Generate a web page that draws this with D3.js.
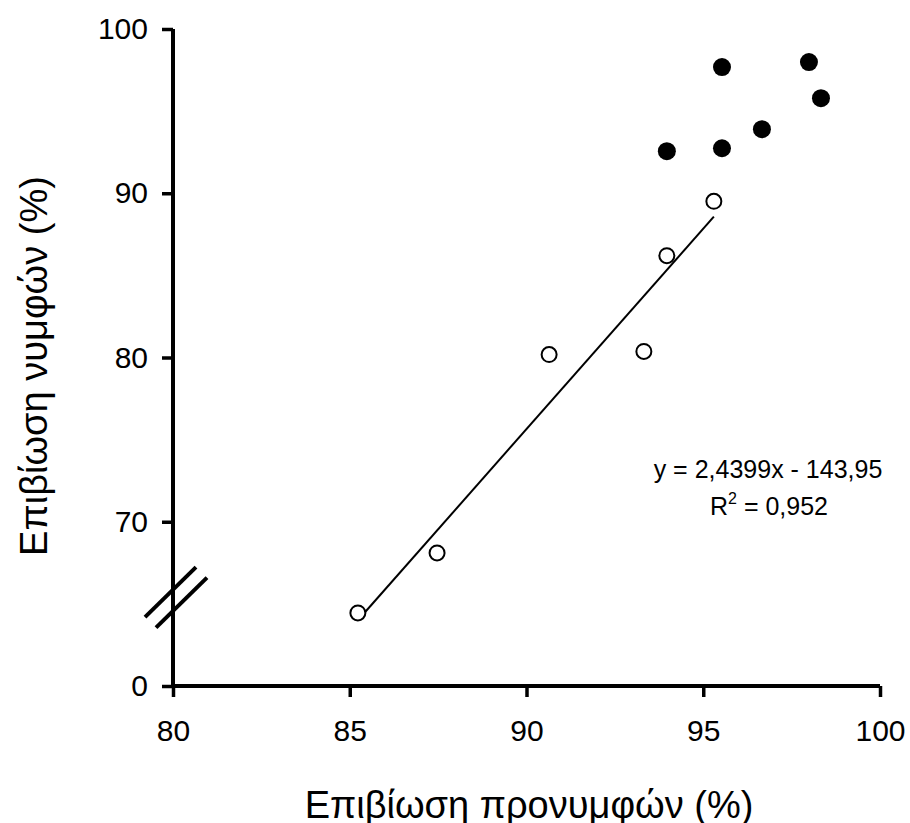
<!DOCTYPE html>
<html>
<head>
<meta charset="utf-8">
<script src="https://cdn.jsdelivr.net/npm/d3@7"></script>
<style>
  body { margin: 0; background: #fff; }
  text { font-family: "Liberation Sans", Arial, sans-serif; fill: #000; }
</style>
</head>
<body>
<div id="chart"></div>
<script>
// open circles (regression series)
var openX = [85.23, 87.47, 90.64, 93.32, 93.97, 95.30];
var openY = [64.45, 68.1, 80.18, 80.37, 86.2, 89.51];
// filled circles
var fillX = [93.97, 95.53, 95.53, 96.66, 97.99, 98.33];
var fillY = [92.56, 92.74, 97.68, 93.90, 97.99, 95.79];

var xTicks = [80, 85, 90, 95, 100];
var yTicks = [60, 70, 80, 90, 100];
var yTickLabels = ["0", "70", "80", "90", "100"];

var slope = 2.4399, intercept = -143.95;
var eqLines = ["y = 2,4399x - 143,95", "R", " = 0,952"];

var width = 910, height = 823;
var margin = { top: 29, right: 30, bottom: 137, left: 173 };
var innerwidth = width - margin.left - margin.right,
    innerheight = height - margin.top - margin.bottom;

var x_scale = d3.scaleLinear().domain([80, 100]).range([0, innerwidth]);
var y_scale = d3.scaleLinear().domain([60, 100]).range([innerheight, 0]);

var svg = d3.select("#chart").append("svg")
    .attr("width", width)
    .attr("height", height);

var g = svg.append("g")
    .attr("transform", "translate(" + margin.left + "," + margin.top + ")");

// axes
var x_axis = d3.axisBottom(x_scale).tickValues(xTicks).tickSize(11).tickSizeOuter(0).tickPadding(23);
var y_axis = d3.axisLeft(y_scale).tickValues(yTicks).tickSize(11).tickSizeOuter(0).tickPadding(14)
    .tickFormat(function (d, i) { return yTickLabels[i]; });

var gx = g.append("g")
    .attr("transform", "translate(0," + innerheight + ")")
    .call(x_axis);
var gy = g.append("g").call(y_axis);

[gx, gy].forEach(function (a) {
    a.select(".domain").attr("stroke-width", 4).attr("stroke", "#000");
    a.selectAll(".tick line").attr("stroke-width", 3.5).attr("stroke", "#000");
    a.selectAll(".tick text").style("font-size", "30px").attr("fill", "#000");
});
// extend axis lines so they meet at the corner
gx.select(".domain").attr("d", "M-2,0H" + innerwidth);
gy.select(".domain").attr("d", "M0,0V" + (innerheight + 1.5));

// axis break marks
var bx = 3, by = y_scale(65.4);
[-1, 1].forEach(function (o) {
    g.append("line")
        .attr("x1", bx - 25.5 + o * 5.5).attr("y1", by + 25 + o * 5.25)
        .attr("x2", bx + 25.5 + o * 5.5).attr("y2", by - 25 + o * 5.25)
        .attr("stroke", "#000").attr("stroke-width", 4);
});

// regression line
var x0 = d3.min(openX), x1 = d3.max(openX);
g.append("line")
    .attr("x1", x_scale(x0)).attr("y1", y_scale(slope * x0 + intercept))
    .attr("x2", x_scale(x1)).attr("y2", y_scale(slope * x1 + intercept))
    .attr("stroke", "#000").attr("stroke-width", 2);

// points
g.selectAll(".open").data(d3.zip(openX, openY)).enter().append("circle")
    .attr("cx", function (d) { return x_scale(d[0]); })
    .attr("cy", function (d) { return y_scale(d[1]); })
    .attr("r", 7.5)
    .attr("fill", "#fff").attr("stroke", "#000").attr("stroke-width", 2);

g.selectAll(".filled").data(d3.zip(fillX, fillY)).enter().append("circle")
    .attr("cx", function (d) { return x_scale(d[0]); })
    .attr("cy", function (d) { return y_scale(d[1]); })
    .attr("r", 9)
    .attr("fill", "#000");

// equation
svg.append("text")
    .attr("x", 768).attr("y", 478)
    .attr("text-anchor", "middle")
    .style("font-size", "25px")
    .text(eqLines[0]);
var r2 = svg.append("text")
    .attr("x", 769).attr("y", 515)
    .attr("text-anchor", "middle")
    .style("font-size", "25px");
r2.append("tspan").text(eqLines[1]);
r2.append("tspan").attr("dy", -11).style("font-size", "16px").text("2");
r2.append("tspan").attr("dy", 11).text(eqLines[2]);

// axis titles
svg.append("text")
    .attr("x", 529).attr("y", 818)
    .attr("text-anchor", "middle")
    .style("font-size", "38px")
    .text("Επιβίωση προνυμφών (%)");

svg.append("text")
    .attr("transform", "translate(47," + 366 + ") rotate(-90)")
    .attr("text-anchor", "middle")
    .style("font-size", "38px")
    .text("Επιβίωση νυμφών (%)");
</script>
</body>
</html>
